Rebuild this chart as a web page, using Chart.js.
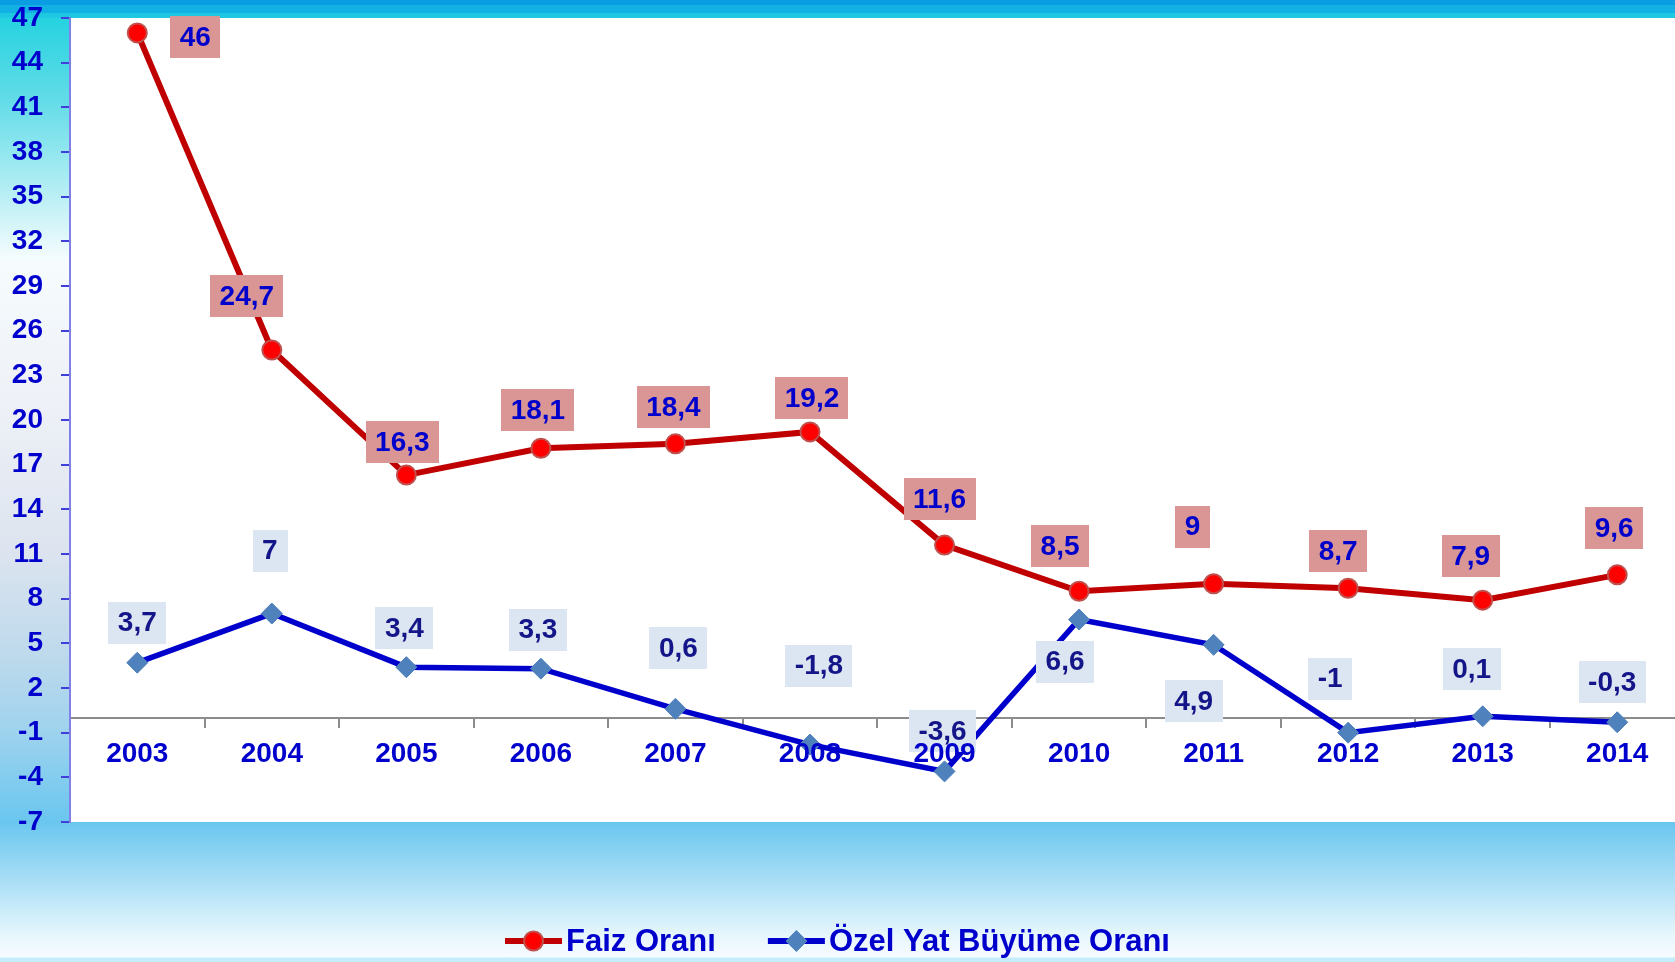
<!DOCTYPE html>
<html>
<head>
<meta charset="utf-8">
<script src="https://cdn.jsdelivr.net/npm/chart.js@4.4.1/dist/chart.umd.min.js"></script>
<style>
  html, body { margin: 0; padding: 0; overflow: hidden; }
  body {
    width: 1675px; height: 962px;
    background: linear-gradient(to bottom,
      #0a9de3 0px, #0a9de3 5px, #12b0e4 5px, #12b0e4 13px, #1ec8e0 13px, #1ec8e0 18px,
      #26d2e0 18px, #62dce8 100px, #b4eef4 190px, #f6fcfe 260px, #eef1f7 400px,
      #dde4ef 550px, #bcd9ec 660px, #9fd3ee 730px, #6ac6ef 822px,
      #a8def6 880px, #e6f6fd 935px, #f6fbff 957px, #c4ecfa 958px, #c4ecfa 962px);
  }
  canvas { display: block; }
</style>
</head>
<body>
<canvas id="chart" width="1696" height="962"></canvas>
<script>
const years = ["2003", "2004", "2005", "2006", "2007", "2008", "2009", "2010", "2011", "2012", "2013", "2014"];
const faizOrani = [46, 24.7, 16.3, 18.1, 18.4, 19.2, 11.6, 8.5, 9, 8.7, 7.9, 9.6];
const ozelYatBuyume = [3.7, 7, 3.4, 3.3, 0.6, -1.8, -3.6, 6.6, 4.9, -1, 0.1, -0.3];
const yMin = -7, yMax = 47, yStep = 3;

// label box offsets from each point (pixels)
const faizLabelOffsets = [[58, 4], [-25, -54], [-4, -33], [-3, -38], [-2, -37], [2, -34], [-5, -46], [-19, -45], [-21, -57], [-10, -37], [-12, -44], [-3, -47]];
const ozelLabelOffsets = [[0, -40], [-2, -63], [-2, -39], [-3, -39], [3, -61], [9, -79], [-2, -40], [-14, 42], [-20, 56], [-18, -54], [-11, -47], [-5, -40]];

const fmt = v => String(v).replace(".", ",");

const plotBg = {
  id: "plotBg",
  beforeDraw(chart) {
    const {ctx, chartArea: a} = chart;
    ctx.save();
    ctx.fillStyle = "#ffffff";
    ctx.fillRect(a.left, a.top, a.right - a.left, a.bottom - a.top);
    ctx.restore();
  }
};

const valueLabels = {
  id: "valueLabels",
  afterDatasetsDraw(chart) {
    const ctx = chart.ctx;
    ctx.save();
    ctx.font = "bold 28px 'Liberation Sans', Arial, sans-serif";
    ctx.textAlign = "center";
    ctx.textBaseline = "middle";
    chart.data.datasets.forEach((ds, di) => {
      const meta = chart.getDatasetMeta(di);
      meta.data.forEach((pt, i) => {
        const off = ds.labelOffsets[i];
        const x = pt.x + off[0], y = pt.y + off[1];
        const txt = fmt(ds.data[i]);
        const w = ctx.measureText(txt).width + 19;
        const h = 42;
        ctx.fillStyle = ds.labelBg;
        ctx.fillRect(Math.round(x - w / 2), Math.round(y - h / 2), Math.round(w), h);
        ctx.fillStyle = ds.labelColor;
        ctx.fillText(txt, x, y + 1);
      });
    });
    ctx.restore();
  }
};

const lineLegend = {
  id: "lineLegend",
  afterDraw(chart) {
    const ctx = chart.ctx;
    const cy = 941, sample = 57, gapText = 4, gapItem = 52;
    ctx.save();
    ctx.font = "bold 31px 'Liberation Sans', Arial, sans-serif";
    ctx.textBaseline = "middle";
    const items = chart.data.datasets.map(ds => ({ds, w: ctx.measureText(ds.label).width}));
    let total = 0;
    items.forEach((it, i) => { total += sample + gapText + it.w + (i ? gapItem : 0); });
    let x = 1675 / 2 - total / 2;  // centred on the visible window
    items.forEach(({ds, w}) => {
      ctx.strokeStyle = ds.borderColor;
      ctx.lineWidth = 6;
      ctx.beginPath();
      ctx.moveTo(x, cy);
      ctx.lineTo(x + sample, cy);
      ctx.stroke();
      ctx.fillStyle = ds.pointBackgroundColor;
      ctx.strokeStyle = ds.pointBorderColor;
      ctx.lineWidth = ds.pointBorderWidth;
      ctx.beginPath();
      const r = ds.pointRadius, px = x + sample / 2;
      if (ds.pointStyle === "circle") {
        ctx.arc(px, cy, r, 0, Math.PI * 2);
      } else {
        ctx.moveTo(px - r, cy); ctx.lineTo(px, cy - r); ctx.lineTo(px + r, cy); ctx.lineTo(px, cy + r); ctx.closePath();
      }
      ctx.fill();
      ctx.stroke();
      ctx.fillStyle = "#0000cc";
      ctx.fillText(ds.label, x + sample + gapText, cy + 1);
      x += sample + gapText + w + gapItem;
    });
    ctx.restore();
  }
};

new Chart(document.getElementById("chart"), {
  type: "line",
  data: {
    labels: years,
    datasets: [{
      label: "Faiz Oranı",
      data: faizOrani,
      borderColor: "#c00000",
      borderWidth: 6,
      pointStyle: "circle",
      pointRadius: 9.5,
      pointHoverRadius: 9.5,
      pointBackgroundColor: "#ff0000",
      pointBorderColor: "#c0504d",
      pointBorderWidth: 2,
      tension: 0,
      clip: false,
      labelOffsets: faizLabelOffsets,
      labelBg: "#d99694",
      labelColor: "#0000cc"
    }, {
      label: "Özel Yat Büyüme Oranı",
      data: ozelYatBuyume,
      borderColor: "#0000cc",
      borderWidth: 5.5,
      pointStyle: "rectRot",
      pointRadius: 10.5,
      pointHoverRadius: 10.5,
      pointBackgroundColor: "#4f81bd",
      pointBorderColor: "#4f81bd",
      pointBorderWidth: 1,
      tension: 0,
      clip: false,
      labelOffsets: ozelLabelOffsets,
      labelBg: "#dce6f2",
      labelColor: "#15158a"
    }]
  },
  options: {
    responsive: false,
    animation: false,
    // canvas is a bit wider than the window: the plot runs past the right edge in the original
    layout: { padding: { top: 18, bottom: 140, left: 0, right: 0 } },
    plugins: {
      legend: { display: false },
      tooltip: { enabled: false }
    },
    scales: {
      x: {
        type: "category",
        position: { y: 0 },
        offset: true,
        afterFit(scale) {
          scale.paddingLeft = 0;
          scale.paddingRight = 0;
        },
        grid: { drawOnChartArea: false, offset: true, tickLength: 9, color: "#8c8c8c", lineWidth: 2 },
        border: { color: "#8c8c8c", width: 2 },
        ticks: {
          color: "#0000cc",
          font: { family: "'Liberation Sans', Arial, sans-serif", size: 28, weight: "bold" },
          padding: 11,
          z: 1,
          autoSkip: false,
          maxRotation: 0
        }
      },
      y: {
        min: yMin,
        max: yMax,
        afterFit(scale) {
          scale.width = 70;
          scale.paddingTop = 0;
          scale.paddingBottom = 0;
        },
        grid: { drawOnChartArea: false, tickLength: 9, color: "#4040d8", lineWidth: 2 },
        border: { color: "#8080e6", width: 2 },
        ticks: {
          stepSize: yStep,
          color: "#0000cc",
          font: { family: "'Liberation Sans', Arial, sans-serif", size: 28, weight: "bold" },
          padding: 18
        }
      }
    }
  },
  plugins: [plotBg, valueLabels, lineLegend]
});
</script>
</body>
</html>
